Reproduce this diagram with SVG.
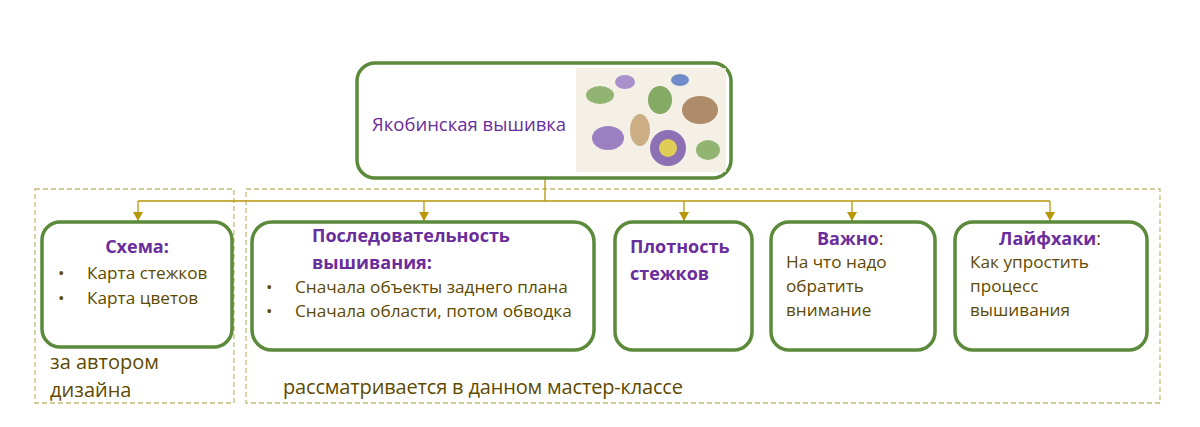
<svg xmlns="http://www.w3.org/2000/svg" width="1200" height="427" viewBox="0 0 1200 427">
<style>
.box{fill:#fff;stroke:#5b8a3a;stroke-width:3.5}
.dash{fill:none;stroke:#c9b878;stroke-width:1.3;stroke-dasharray:5 3}
.ln{fill:none;stroke:#b8960a;stroke-width:1.3}
text{font-family:"Open Sans","Liberation Sans",sans-serif;font-size:17.2px}
.h{fill:#6a2d9c;font-weight:bold;font-size:18px}
.t{fill:#5e4a00}
.p{fill:#6a2d9c;font-size:18.5px}
.b{font-size:20px}
</style>
<defs>
<marker id="a" markerWidth="10" markerHeight="10" refX="5" refY="9" markerUnits="userSpaceOnUse"><path d="M0,0 L10,0 L5,9 z" fill="#b8960a"/></marker></defs>
<rect class="dash" x="35" y="189" width="199" height="214"/>
<rect class="dash" x="246" y="189" width="914" height="214"/>
<g id="connectors">
<path class="ln" d="M545,178 V201 M138,201 H1050"/>
<path class="ln" d="M138,201 V221" marker-end="url(#a)"/>
<path class="ln" d="M424,201 V221" marker-end="url(#a)"/>
<path class="ln" d="M684,201 V221" marker-end="url(#a)"/>
<path class="ln" d="M852,201 V221" marker-end="url(#a)"/>
<path class="ln" d="M1050,201 V221" marker-end="url(#a)"/>
</g>
<g id="root">
<rect class="box" x="357" y="63" width="374" height="115" rx="18"/>
<text class="p" x="372" y="131">Якобинская вышивка</text>
<g opacity="0.85">
<rect x="576" y="68" width="150" height="104" fill="#f3eee2"/>
<ellipse cx="600" cy="95" rx="14" ry="9" fill="#7fa85a"/>
<ellipse cx="625" cy="82" rx="10" ry="7" fill="#9b7fc4"/>
<ellipse cx="660" cy="100" rx="12" ry="14" fill="#6f9c48"/>
<ellipse cx="700" cy="110" rx="18" ry="14" fill="#a07850"/>
<ellipse cx="608" cy="138" rx="16" ry="12" fill="#8a6bb8"/>
<ellipse cx="640" cy="130" rx="10" ry="16" fill="#c4a070"/>
<circle cx="668" cy="148" r="18" fill="#7a58a8"/>
<circle cx="668" cy="148" r="9" fill="#d9c53a"/>
<ellipse cx="708" cy="150" rx="12" ry="10" fill="#7fa85a"/>
<ellipse cx="680" cy="80" rx="9" ry="6" fill="#5a78c0"/>
</g>
</g>
<g id="n1">
<rect class="box" x="42" y="222" width="190" height="125" rx="18"/>
<text class="h" x="137" y="253" text-anchor="middle">Схема:</text>
<text class="t" x="58" y="279">•</text><text class="t" x="87" y="279">Карта стежков</text>
<text class="t" x="58" y="304">•</text><text class="t" x="87" y="304">Карта цветов</text>
</g>
<g id="n2">
<rect class="box" x="252" y="222" width="342" height="128" rx="20"/>
<text class="h" x="312" y="242">Последовательность</text>
<text class="h" x="312" y="269">вышивания:</text>
<text class="t" x="266" y="293">•</text><text class="t" x="295" y="293">Сначала объекты заднего плана</text>
<text class="t" x="266" y="317">•</text><text class="t" x="295" y="317">Сначала области, потом обводка</text>
</g>
<g id="n3">
<rect class="box" x="615" y="222" width="137" height="128" rx="18"/>
<text class="h" x="630" y="253">Плотность</text>
<text class="h" x="630" y="280">стежков</text>
</g>
<g id="n4">
<rect class="box" x="771" y="222" width="164" height="128" rx="18"/>
<text class="h" x="817" y="245">Важно<tspan class="t" font-weight="normal">:</tspan></text>
<text class="t" x="786" y="268">На что надо</text>
<text class="t" x="786" y="292">обратить</text>
<text class="t" x="786" y="316">внимание</text>
</g>
<g id="n5">
<rect class="box" x="955" y="222" width="192" height="128" rx="18"/>
<text class="h" x="999" y="245">Лайфхаки<tspan class="t" font-weight="normal">:</tspan></text>
<text class="t" x="970" y="268">Как упростить</text>
<text class="t" x="970" y="292">процесс</text>
<text class="t" x="970" y="316">вышивания</text>
</g>
<text class="t b" x="50" y="369">за автором</text>
<text class="t b" x="50" y="397">дизайна</text>
<text class="t b" x="283" y="394" textLength="400">рассматривается в данном мастер-классе</text>
</svg>
